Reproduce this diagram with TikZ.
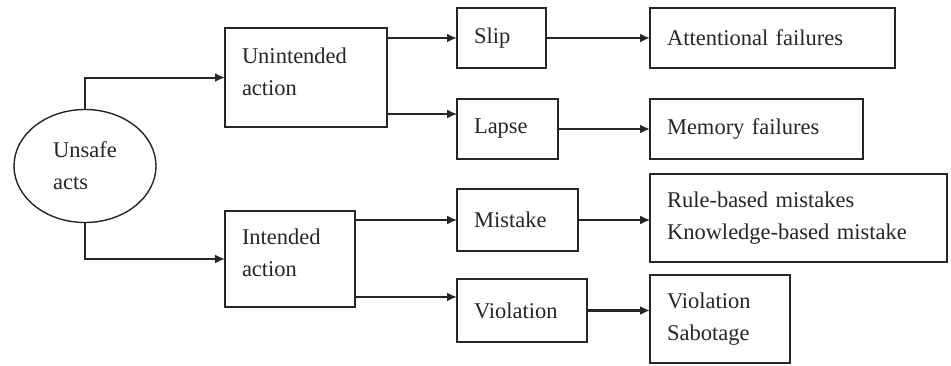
\documentclass[tikz,border=0pt]{standalone}
\usepackage{fontspec}
\setmainfont{Liberation Serif}
\usetikzlibrary{arrows.meta,shapes.geometric}
\begin{document}
\begin{tikzpicture}[x=1pt,y=-1pt,
  every node/.style={font=\fontsize{22.5}{32}\selectfont, text=black!85},
  bx/.style={draw=black!85, line width=1.7pt, rectangle, anchor=north west,
     inner xsep=17pt, inner ysep=0pt, align=left, outer sep=0pt},
  thickarr/.style={line width=2.4pt, draw=black!85, -{Latex[length=10pt,width=9pt]}},
  thinarr/.style={line width=1.4pt, draw=black!85, -{Latex[length=10pt,width=9pt]}}
]
\useasboundingbox (0,0) rectangle (951,365);
% ellipse
\node[draw=black!85, line width=1.4pt, ellipse, minimum width=142pt, minimum height=113pt,
      inner sep=0pt, align=left] (us) at (85,166) {Unsafe\\acts};
% second column
\node[bx, text width=128pt, minimum height=99pt, text depth=44pt] (ua) at (225,28) {Unintended\\action};
\node[bx, text width=96pt, minimum height=96pt, text depth=44pt] (ia) at (225,211) {Intended\\action};
% third column
\node[bx, text width=55pt, minimum height=60pt] (sl) at (457,8) {Slip};
\node[bx, text width=67pt, minimum height=60pt] (la) at (457,99) {Lapse};
\node[bx, text width=87pt, minimum height=62pt] (mi) at (457,189) {Mistake};
\node[bx, text width=96pt, minimum height=63pt] (vi) at (457,279) {Violation};
% fourth column
\node[bx, text width=211pt, minimum height=60pt] (af) at (650,8) {Attentional failures};
\node[bx, text width=179pt, minimum height=60pt] (mf) at (650,99) {Memory failures};
\node[bx, text width=263pt, minimum height=88pt] (rb) at (650,174) {Rule-based mistakes\\Knowledge-based mistake};
\node[bx, text width=106pt, minimum height=88pt] (vs) at (650,275) {Violation\\Sabotage};
% helper coordinates
\coordinate (ul) at ([yshift=13pt]ua.south east);
\coordinate (il) at ([yshift=10pt]ia.south east);
% connectors
\draw[thickarr, line width=2pt] (us.north) |- (ua.west);
\draw[thickarr, line width=2pt] (us.south) |- (ia.west);
\draw[thickarr] (ua.east |- sl.west) -- (sl.west);
\draw[thinarr] (ul) -- (ul -| la.west);
\draw[thinarr] (ia.east |- mi.west) -- (mi.west);
\draw[thickarr] (il) -- (il -| vi.west);
\draw[thickarr] (sl.east) -- (sl.east -| af.west);
\draw[thickarr] (la.east) -- (la.east -| mf.west);
\draw[thinarr, line width=1.1pt] (mi.east) -- (mi.east -| rb.west);
\draw[thickarr] (vi.east) -- (vi.east -| vs.west);
\end{tikzpicture}
\end{document}
